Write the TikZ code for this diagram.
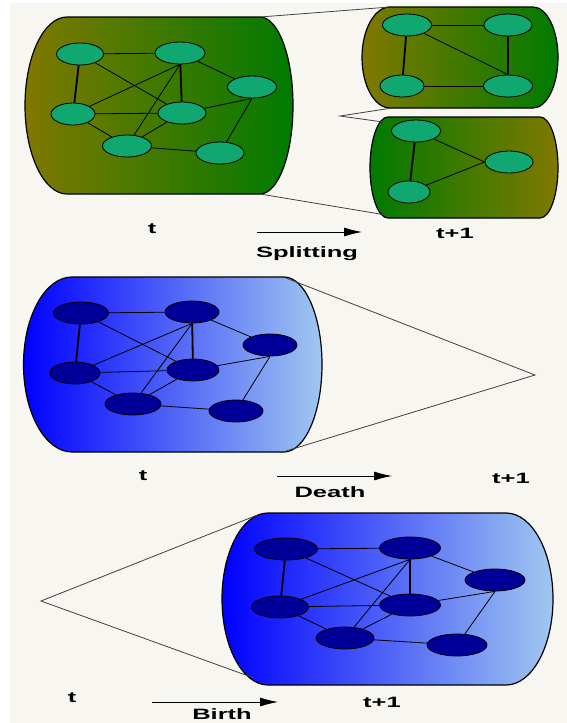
\documentclass[tikz,border=0pt]{standalone}
\usepackage{fontspec}
\newfontfamily\lblfont{Liberation Sans}[FakeStretch = 1.7]
\usetikzlibrary{shapes.geometric, arrows.meta}

\definecolor{paper}{RGB}{248,246,240}
\definecolor{olivegreen}{RGB}{128,120,0}
\definecolor{darkgreen}{RGB}{0,122,0}
\definecolor{seagreen}{RGB}{16,168,112}
\definecolor{deepblue}{RGB}{0,0,255}
\definecolor{paleblue}{RGB}{160,200,240}
\definecolor{navyblue}{RGB}{0,0,153}

\begin{document}
\begin{tikzpicture}[x = 1pt, y = -1pt, > = {Latex[length = 18pt, width = 9pt]},
	vertex/.style = {ellipse, draw, line width = 0.8pt, inner sep = 0pt, minimum height = 22pt},
	gvertex/.style = {vertex, fill = seagreen},
	bvertex/.style = {vertex, fill = navyblue},
	edge/.style = {line width = 0.8pt},
	strong/.style = {line width = 1.8pt},
	capsule/.style = {draw, line width = 1.2pt},
	wedge/.style = {draw = black!75, line width = 0.8pt},
	stamp/.style = {font = {\lblfont\fontsize{15pt}{18pt}\selectfont\bfseries}, inner sep = 0pt, anchor = base}]

	% Page

	\clip (0, 0) rectangle (567, 723);
	\fill [white] (0, 0) rectangle (567, 723);
	\fill [paper] (10, 3) rectangle (567, 723);

	%%%%%%%%%%%%%%%% Splitting %%%%%%%%%%%%%%%%

	% Community at t

	\draw [capsule, left color = olivegreen, right color = darkgreen]
		(67, 17) -- (260, 17) arc [start angle = -90, end angle = 90, x radius = 33, y radius = 88.5]
		-- (67, 194) arc [start angle = 90, end angle = 270, x radius = 42, y radius = 88.5] -- cycle;
	\coordinate (gtr) at (260, 17);
	\coordinate (gbr) at (260, 194);

	\node [gvertex, minimum width = 47pt] (g1) at (80, 54) {};
	\node [gvertex, minimum width = 50pt] (g2) at (180, 53) {};
	\node [gvertex, minimum width = 49pt] (g3) at (252, 87) {};
	\node [gvertex, minimum width = 44pt] (g4) at (73, 114) {};
	\node [gvertex, minimum width = 48pt] (g5) at (182, 113) {};
	\node [gvertex, minimum width = 49pt] (g6) at (127, 146) {};
	\node [gvertex, minimum width = 48pt] (g7) at (220, 153) {};

	\draw [strong] (g1) -- (g4);
	\draw [strong] (g2) -- (g5);
	\foreach \a/\b in {g1/g2, g1/g5, g2/g3, g4/g5, g4/g6, g5/g6, g6/g7}
		\draw [edge] (\a) -- (\b);
	\foreach \b in {g4, g6}
		\draw [edge] (g2.south) -- (\b);
	\foreach \b in {g5, g7}
		\draw [edge] (g3.south) -- (\b);

	% Upper part at t+1

	\draw [capsule, left color = olivegreen, right color = darkgreen]
		(390, 7) -- (533, 7) arc [start angle = -90, end angle = 90, x radius = 25, y radius = 50.5]
		-- (390, 108) arc [start angle = 90, end angle = 270, x radius = 28, y radius = 50.5] -- cycle;
	\coordinate (utl) at (390, 7);
	\coordinate (ubl) at (392, 108);

	\node [gvertex, minimum width = 49pt] (a1) at (407, 25) {};
	\node [gvertex, minimum width = 48pt] (a2) at (508, 25) {};
	\node [gvertex, minimum width = 44pt] (a3) at (402, 86) {};
	\node [gvertex, minimum width = 49pt] (a4) at (508, 86) {};

	\draw [strong] (a1) -- (a3);
	\draw [strong] (a2) -- (a4);
	\foreach \a/\b in {a1/a2, a3/a4}
		\draw [edge] (\a) -- (\b);
	\draw [edge] (a1) -- (a4.north);

	% Lower part at t+1

	\draw [capsule, left color = darkgreen, right color = olivegreen]
		(388, 117) -- (540, 117) arc [start angle = -90, end angle = 90, x radius = 18, y radius = 50.5]
		-- (388, 218) arc [start angle = 90, end angle = 270, x radius = 18, y radius = 50.5] -- cycle;
	\coordinate (ltl) at (383, 122);
	\coordinate (lbl) at (386, 215);

	\node [gvertex, minimum width = 49pt] (b1) at (416, 131) {};
	\node [gvertex, minimum width = 48pt] (b2) at (509, 162) {};
	\node [gvertex, minimum width = 42pt] (b3) at (409, 192) {};

	\draw [strong] (b1) -- (b3);
	\draw [edge] (b1) -- (b2.west);
	\draw [edge] (b3) -- (b2.west);

	% Wedges

	\coordinate (split) at (340, 116);
	\draw [wedge] (gtr) -- (utl);
	\draw [wedge] (gbr) -- (lbl);
	\draw [wedge] (ubl) -- (split) -- (ltl);

	% Labels

	\node [stamp] (t1) at (152, 233) {t};
	\node [stamp] (s1) at (455, 238) {t+1};
	\coordinate (ea) at (257, 232);
	\coordinate (eb) at (362, 232);
	\draw [->, line width = 0.8pt] (ea) -- (eb);
	\node [stamp] (split lbl) at (307, 257) {Splitting};

	%%%%%%%%%%%%%%%% Death %%%%%%%%%%%%%%%%

	\draw [capsule, left color = deepblue, right color = paleblue]
		(72, 277) -- (284, 277) arc [start angle = -90, end angle = 90, x radius = 38, y radius = 87.5]
		-- (72, 452) arc [start angle = 90, end angle = 270, x radius = 48.5, y radius = 87.5] -- cycle;
	\coordinate (ctr) at (286, 278);
	\coordinate (cbr) at (286, 451);

	\node [bvertex, minimum width = 55pt] (c1) at (81, 313) {};
	\node [bvertex, minimum width = 54pt] (c2) at (192, 312) {};
	\node [bvertex, minimum width = 54pt] (c3) at (270, 345) {};
	\node [bvertex, minimum width = 50pt] (c4) at (75, 373) {};
	\node [bvertex, minimum width = 52pt] (c5) at (193, 370) {};
	\node [bvertex, minimum width = 56pt] (c6) at (133, 404) {};
	\node [bvertex, minimum width = 54pt] (c7) at (236, 411) {};

	\draw [strong] (c1) -- (c4);
	\draw [strong] (c2) -- (c5);
	\foreach \a/\b in {c1/c2, c1/c5, c2/c3, c4/c5, c4/c6, c5/c6, c6/c7}
		\draw [edge] (\a) -- (\b);
	\foreach \b in {c4, c6}
		\draw [edge] (c2.south) -- (\b);
	\foreach \b in {c5, c7}
		\draw [edge] (c3.south) -- (\b);

	% Vanishing point

	\coordinate (gone) at (535, 375);
	\draw [wedge] (ctr) -- (gone) -- (cbr);

	\node [stamp] (t2) at (143, 480) {t};
	\node [stamp] (s2) at (511, 483) {t+1};
	\coordinate (da) at (277, 476);
	\coordinate (db) at (392, 476);
	\draw [->, line width = 0.8pt] (da) -- (db);
	\node [stamp] (death lbl) at (330, 497) {Death};

	%%%%%%%%%%%%%%%% Birth %%%%%%%%%%%%%%%%

	\draw [capsule, left color = deepblue, right color = paleblue]
		(268, 513) -- (506, 513) arc [start angle = -90, end angle = 90, x radius = 47, y radius = 86]
		-- (268, 685) arc [start angle = 90, end angle = 270, x radius = 46, y radius = 86] -- cycle;
	\coordinate (dtl) at (260, 514);
	\coordinate (dbl) at (254, 678);

	\node [bvertex, minimum width = 63pt] (d1) at (286, 549) {};
	\node [bvertex, minimum width = 61pt] (d2) at (410, 548) {};
	\node [bvertex, minimum width = 60pt] (d3) at (495, 580) {};
	\node [bvertex, minimum width = 57pt] (d4) at (280, 607) {};
	\node [bvertex, minimum width = 61pt] (d5) at (410, 605) {};
	\node [bvertex, minimum width = 58pt] (d6) at (345, 638) {};
	\node [bvertex, minimum width = 60pt] (d7) at (457, 645) {};

	\draw [strong] (d1) -- (d4);
	\draw [strong] (d2) -- (d5);
	\foreach \a/\b in {d1/d2, d1/d5, d2/d3, d4/d5, d4/d6, d5/d6, d6/d7}
		\draw [edge] (\a) -- (\b);
	\foreach \b in {d4, d6}
		\draw [edge] (d2.south) -- (\b);
	\foreach \b in {d5, d7}
		\draw [edge] (d3.south) -- (\b);

	% Point of origin

	\coordinate (born) at (41, 601);
	\draw [wedge] (dtl) -- (born) -- (dbl);

	\node [stamp] (t3) at (72, 702) {t};
	\node [stamp] (s3) at (382, 707) {t+1};
	\coordinate (ba) at (152, 702);
	\coordinate (bb) at (278, 702);
	\draw [->, line width = 0.8pt] (ba) -- (bb);
	\node [stamp] (birth lbl) at (222, 719) {Birth};

\end{tikzpicture}
\end{document}
